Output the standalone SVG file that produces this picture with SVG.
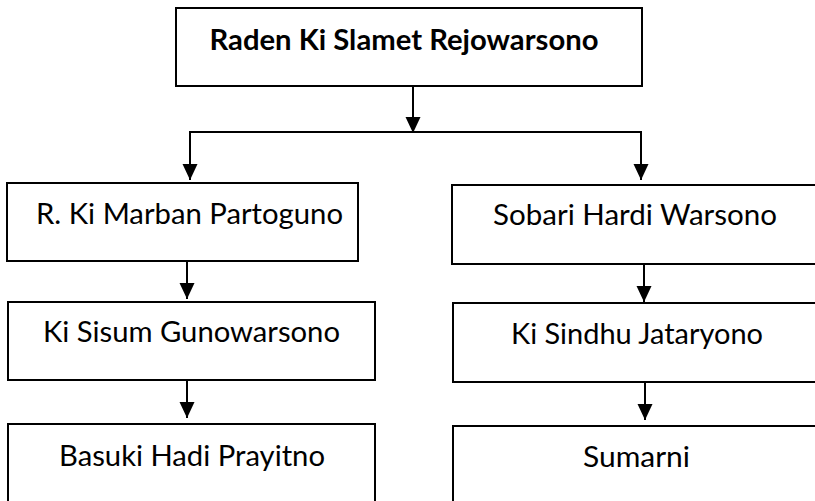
<svg xmlns="http://www.w3.org/2000/svg" width="815" height="501" viewBox="0 0 815 501">
  <style>
    .box { fill: #ffffff; stroke: #000000; stroke-width: 2; }
    .lbl { font-family: Lato, "Open Sans", "Liberation Sans", sans-serif; font-size: 28px; fill: #000000; text-anchor: middle; }
    .bold { font-weight: bold; }
    .conn { stroke: #000000; stroke-width: 2; fill: none; }
  </style>
  <defs>
    <marker id="arrow" markerUnits="userSpaceOnUse" markerWidth="16" markerHeight="16" viewBox="0 0 16 16" refX="16" refY="8" orient="auto">
      <path d="M0,0.5 L16,8 L0,15.5 Z" fill="#000000"/>
    </marker>
  </defs>
  <rect x="0" y="0" width="815" height="501" fill="#ffffff"/>

  <g id="connectors">
    <line class="conn" x1="413" y1="86" x2="413" y2="133" marker-end="url(#arrow)"/>
    <line class="conn" x1="189" y1="132" x2="642" y2="132"/>
    <line class="conn" x1="190" y1="132" x2="190" y2="180" marker-end="url(#arrow)"/>
    <line class="conn" x1="641" y1="132" x2="641" y2="180" marker-end="url(#arrow)"/>
    <line class="conn" x1="187" y1="261" x2="187" y2="299" marker-end="url(#arrow)"/>
    <line class="conn" x1="187" y1="380" x2="187" y2="418" marker-end="url(#arrow)"/>
    <line class="conn" x1="644" y1="264" x2="644" y2="302" marker-end="url(#arrow)"/>
    <line class="conn" x1="645" y1="382" x2="645" y2="420" marker-end="url(#arrow)"/>
  </g>

  <g id="node-raden">
    <rect class="box" x="176" y="8" width="466" height="78"/>
    <text class="lbl bold" x="404" y="50" textLength="389" lengthAdjust="spacingAndGlyphs">Raden Ki Slamet Rejowarsono</text>
  </g>
  <g id="node-marban">
    <rect class="box" x="7" y="183" width="351" height="78"/>
    <text class="lbl" x="189.5" y="224" textLength="307" lengthAdjust="spacingAndGlyphs">R. Ki Marban Partoguno</text>
  </g>
  <g id="node-sobari">
    <rect class="box" x="452" y="185" width="370" height="79"/>
    <text class="lbl" x="635" y="225" textLength="284" lengthAdjust="spacingAndGlyphs">Sobari Hardi Warsono</text>
  </g>
  <g id="node-sisum">
    <rect class="box" x="8" y="302" width="367" height="78"/>
    <text class="lbl" x="191.5" y="342" textLength="297" lengthAdjust="spacingAndGlyphs">Ki Sisum Gunowarsono</text>
  </g>
  <g id="node-sindhu">
    <rect class="box" x="453" y="303" width="370" height="79"/>
    <text class="lbl" x="637" y="344" textLength="252" lengthAdjust="spacingAndGlyphs">Ki Sindhu Jataryono</text>
  </g>
  <g id="node-basuki">
    <rect class="box" x="8" y="424" width="367" height="84"/>
    <text class="lbl" x="192" y="466" textLength="266" lengthAdjust="spacingAndGlyphs">Basuki Hadi Prayitno</text>
  </g>
  <g id="node-sumarni">
    <rect class="box" x="453" y="426" width="370" height="84"/>
    <text class="lbl" x="636.5" y="467" textLength="107" lengthAdjust="spacingAndGlyphs">Sumarni</text>
  </g>
</svg>
